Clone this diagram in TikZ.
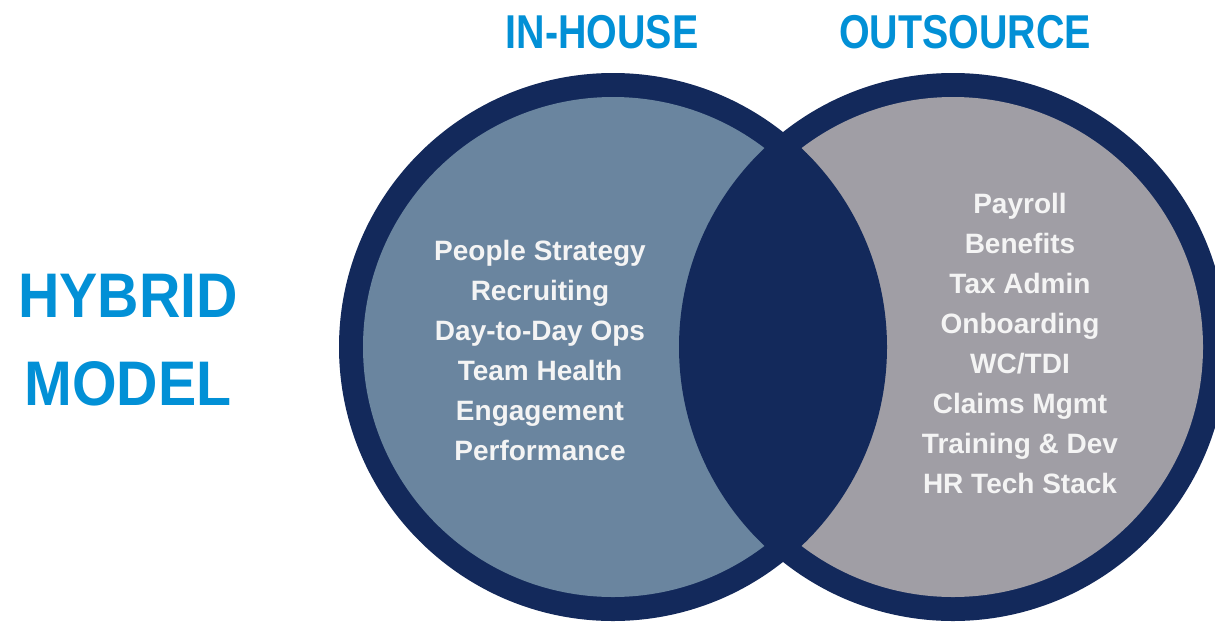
\documentclass[tikz,border=0pt]{standalone}
\usepackage{fontspec}
\setmainfont{Liberation Sans}
\newfontfamily\headfont[FakeStretch=0.83]{Liberation Sans}
\newfontfamily\sidefont[FakeStretch=0.91]{Liberation Sans}
\definecolor{vennnavy}{HTML}{13295B}
\definecolor{inhouseblue}{HTML}{6A859F}
\definecolor{outsourcegrey}{HTML}{A09EA5}
\definecolor{titleblue}{HTML}{0290D6}
\definecolor{itemwhite}{HTML}{F4F4F4}
\tikzset{
  heading/.style={inner sep=0pt, text=titleblue, font=\headfont\bfseries\fontsize{47.5}{50}\selectfont},
  itemlist/.style={inner sep=0pt, align=center, text=itemwhite, font=\bfseries\fontsize{28}{40}\selectfont},
}
\pgfmathsetmacro{\vennouter}{274}
\pgfmathsetmacro{\venninner}{250}

\begin{document}
\begin{tikzpicture}[x=1pt, y=-1pt]
    \useasboundingbox (0,0) rectangle (1215,622);
    % define centres
    \coordinate (inhouse_c) at (613,347);
    \coordinate (outsource_c) at (953,347);
    % draw circles
    \fill[vennnavy] (inhouse_c) circle[radius=\vennouter pt];
    \fill[vennnavy] (outsource_c) circle[radius=\vennouter pt];
    \fill[inhouseblue] (inhouse_c) circle[radius=\venninner pt];
    \fill[outsourcegrey] (outsource_c) circle[radius=\venninner pt];
    % overlap of the outer rings
    \begin{scope}
        \clip (inhouse_c) circle[radius=\vennouter pt];
        \fill[vennnavy] (outsource_c) circle[radius=\vennouter pt];
    \end{scope}
    % add labels
    \node[heading] (inhouse_title) at (602,32) {IN-HOUSE};
    \node[heading] (outsource_title) at (965,32) {OUTSOURCE};
    \node[inner sep=0pt, align=center, text=titleblue,
          font=\sidefont\bfseries\fontsize{63}{88.5}\selectfont]
        (hybrid_title) at (128,340) {HYBRID\\MODEL};
    \node[itemlist] (inhouse_items) at (540,350)
        {People Strategy\\Recruiting\\Day-to-Day Ops\\Team Health\\Engagement\\Performance};
    \node[itemlist] (outsource_items) at (1020,343)
        {Payroll\\Benefits\\Tax Admin\\Onboarding\\WC/TDI\\Claims Mgmt\\Training \& Dev\\HR Tech Stack};
\end{tikzpicture}
\end{document}
